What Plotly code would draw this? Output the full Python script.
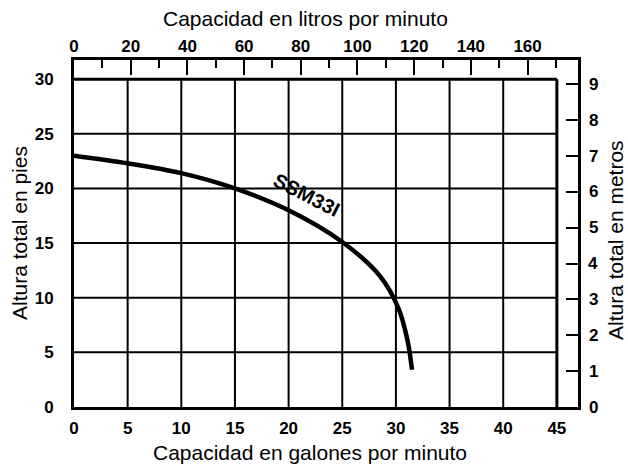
import plotly.graph_objects as go

# Data
gpm = [0, 5, 10, 15, 20, 25, 28.5, 30.25, 31.1, 31.5]
head_ft = [23.0, 22.3, 21.4, 20.0, 18.0, 15.1, 12.0, 9.0, 6.0, 3.4]
curve_label = "SSM33I"
gal_ticks = [0, 5, 10, 15, 20, 25, 30, 35, 40, 45]
ft_ticks = [0, 5, 10, 15, 20, 25, 30]
lpm_ticks = [0, 20, 40, 60, 80, 100, 120, 140, 160]
m_ticks = [0, 1, 2, 3, 4, 5, 6, 7, 8, 9]

GAL_TO_L = 3.785
FT_TO_M = 0.3048
x_max = 46.97
y_max = 31.75
grid_x_max = 45
grid_y_max = 30

FONT = "Liberation Sans, Arial, sans-serif"
tickfont = dict(family=FONT, size=17, color="black", weight="bold")
titlefont = dict(family=FONT, size=21, color="black")

fig = go.Figure()

fig.add_trace(go.Scatter(x=gpm, y=head_ft, mode="lines",
                         line=dict(color="black", width=4.5, shape="spline", smoothing=1.0),
                         showlegend=False, hoverinfo="skip"))
# invisible traces for secondary axes
fig.add_trace(go.Scatter(x=[0], y=[0], xaxis="x2", yaxis="y", mode="markers",
                         marker=dict(opacity=0), showlegend=False, hoverinfo="skip"))
fig.add_trace(go.Scatter(x=[0], y=[0], xaxis="x", yaxis="y2", mode="markers",
                         marker=dict(opacity=0), showlegend=False, hoverinfo="skip"))

shapes = []
for gx in gal_ticks[1:-1]:
    shapes.append(dict(type="line", xref="x", yref="y", x0=gx, x1=gx, y0=0, y1=grid_y_max,
                       line=dict(color="black", width=2), layer="below"))
for gy in ft_ticks[1:-1]:
    shapes.append(dict(type="line", xref="x", yref="y", x0=0, x1=grid_x_max, y0=gy, y1=gy,
                       line=dict(color="black", width=2), layer="below"))
# inner frame
shapes.append(dict(type="line", xref="x", yref="y", x0=0, x1=grid_x_max, y0=grid_y_max, y1=grid_y_max,
                   line=dict(color="black", width=3)))
shapes.append(dict(type="line", xref="x", yref="y", x0=grid_x_max, x1=grid_x_max, y0=0, y1=grid_y_max,
                   line=dict(color="black", width=3)))

# plot area in pixels: x 74..578, y 60..407
def px(xp):
    return (xp - 74) / 504.0

def py(yp):
    return (407 - yp) / 347.0

annotations = [
    dict(text=curve_label, x=21.7, y=19.4, xref="x", yref="y", showarrow=False,
         textangle=27, font=dict(family=FONT, size=20, color="black", weight="bold")),
    dict(text="Capacidad en litros por minuto", x=px(305), y=py(18), xref="paper", yref="paper",
         xanchor="center", yanchor="middle", showarrow=False, font=titlefont),
    dict(text="Capacidad en galones por minuto", x=px(310), y=py(452), xref="paper", yref="paper",
         xanchor="center", yanchor="middle", showarrow=False, font=titlefont),
    dict(text="Altura total en pies", x=px(19), y=py(233), xref="paper", yref="paper",
         xanchor="center", yanchor="middle", showarrow=False, textangle=-90, font=titlefont),
    dict(text="Altura total en metros", x=px(615), y=py(240), xref="paper", yref="paper",
         xanchor="center", yanchor="middle", showarrow=False, textangle=-90, font=titlefont),
]
# right-hand metre labels, placed on the metre axis scale
for m in m_ticks:
    annotations.append(dict(text=str(m), x=px(593), y=m, xref="paper", yref="y2",
                            xanchor="center", yanchor="middle", showarrow=False, font=tickfont))

fig.update_layout(
    width=628, height=468, autosize=False,
    margin=dict(l=74, r=50, t=60, b=61, autoexpand=False),
    paper_bgcolor="white", plot_bgcolor="white",
    shapes=shapes, annotations=annotations,
    xaxis=dict(range=[0, x_max], tickvals=gal_ticks, showgrid=False, zeroline=False,
               showline=True, linewidth=3, linecolor="black", ticks="", automargin=False,
               tickfont=tickfont, ticklabelstandoff=4),
    xaxis2=dict(range=[0, x_max * GAL_TO_L], tickvals=lpm_ticks, overlaying="x", side="top",
                showgrid=False, zeroline=False, showline=True, linewidth=3, linecolor="black",
                ticks="inside", ticklen=15, tickwidth=2, tickcolor="black", automargin=False,
                minor=dict(dtick=10, tick0=0, ticks="inside", ticklen=8, tickwidth=2, tickcolor="black"),
                tickfont=tickfont, ticklabelstandoff=-2),
    yaxis=dict(range=[0, y_max], tickvals=ft_ticks, showgrid=False, zeroline=False,
               showline=True, linewidth=3, linecolor="black", ticks="", automargin=False,
               tickfont=tickfont, ticklabelstandoff=14),
    yaxis2=dict(range=[0, y_max * FT_TO_M], tickvals=m_ticks, overlaying="y", side="right",
                showgrid=False, zeroline=False, showline=True, linewidth=3, linecolor="black",
                ticks="inside", ticklen=12, tickwidth=2, tickcolor="black", automargin=False,
                showticklabels=False),
)

post = ("document.body.style.margin='0';document.body.style.padding='0';"
        "document.body.style.overflow='hidden';"
        "var gd=document.getElementById('{plot_id}');"
        "Plotly.relayout(gd,{width:628,height:468});")

fig.write_html("out.html", config={"responsive": False, "displayModeBar": False},
               post_script=post)
